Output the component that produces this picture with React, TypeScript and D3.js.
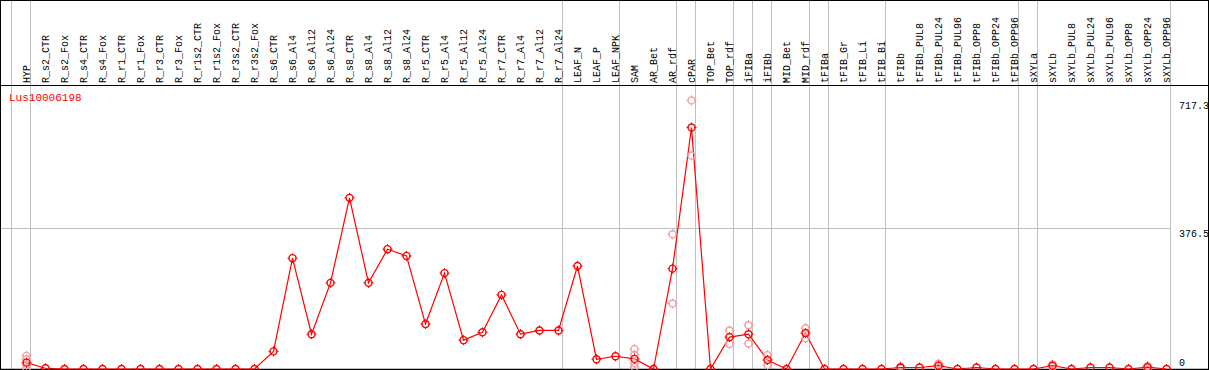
import React from "react";
import * as d3 from "d3";

const categories = [
  "HYP","R_s2_CTR","R_s2_Fox","R_s4_CTR","R_s4_Fox","R_r1_CTR","R_r1_Fox","R_r3_CTR","R_r3_Fox",
  "R_r1s2_CTR","R_r1s2_Fox","R_r3s2_CTR","R_r3s2_Fox","R_s6_CTR","R_s6_Al4","R_s6_Al12","R_s6_Al24",
  "R_s8_CTR","R_s8_Al4","R_s8_Al12","R_s8_Al24","R_r5_CTR","R_r5_Al4","R_r5_Al12","R_r5_Al24",
  "R_r7_CTR","R_r7_Al4","R_r7_Al12","R_r7_Al24","LEAF_N","LEAF_P","LEAF_NPK","SAM","AR_Bet","AR_rdf",
  "cPAR","TOP_Bet","TOP_rdf","iFIBa","iFIBb","MID_Bet","MID_rdf","tFIBa","tFIB_Gr","tFIB_Li","tFIB_Bi",
  "tFIBb","tFIBb_PUL8","tFIBb_PUL24","tFIBb_PUL96","tFIBb_OPP8","tFIBb_OPP24","tFIBb_OPP96","sXYLa",
  "sXYLb","sXYLb_PUL8","sXYLb_PUL24","sXYLb_PUL96","sXYLb_OPP8","sXYLb_OPP24","sXYLb_OPP96",
];

const meanValues = [
  17, 2, 0, 0, 0, 0, 0, 0, 0, 0, 0, 0, 0, 47, 296, 93, 230,
  457, 230, 320, 302, 120, 256, 77, 98,
  198, 93, 103, 103, 275, 26, 34, 27, 0, 268,
  645, 0, 85, 93, 24, 0, 96, 0, 0, 0, 0,
  4, 4, 9, 0, 4, 0, 0, 0,
  9, 0, 4, 4, 0, 5, 0,
];

// replicate measurements for categories that show visible spread
const replicateIndex = [0, 32, 34, 35, 37, 38, 39, 41, 46, 48, 54, 59];
const replicateValues = [
  [35, 26, 11, 2],
  [53, 38, 15, 5],
  [360, 175],
  [717.3, 570],
  [103, 67],
  [117, 68],
  [37, 11],
  [109, 82],
  [7, 2],
  [14, 4],
  [12, 6],
  [8, 2],
];

const groupEnds = [-1, 0, 28, 31, 34, 35, 37, 38, 39, 41, 42, 45, 52, 53, 60];
const axisTicks = [717.3, 376.5, 0];
const title = "Lus10006198";

const W = 1209;
const H = 370;
const FONT = "'Liberation Mono', 'DejaVu Sans Mono', monospace";

export default function App() {
  const x = d3.scaleLinear().domain([0, categories.length - 1]).range([26.5, 1166.5]);
  const y = d3.scaleLinear().domain([0, 717.3]).range([369, 100.4]);
  const line = d3
    .line<number>()
    .x((_, i) => x(i))
    .y((d) => y(d));

  const reps: { i: number; v: number }[] = [];
  replicateIndex.forEach((ci, k) => replicateValues[k].forEach((v) => reps.push({ i: ci, v })));

  const red = "#ff0000";
  const pink = "#f0a0a0";

  const marker = (cx: number, cy: number, color: string, key: string) => (
    <g key={key} stroke={color} fill="none">
      <circle cx={cx} cy={cy} r={3.5} strokeWidth={1.4} />
      <line x1={cx} x2={cx} y1={cy - 5} y2={cy - 3} strokeWidth={1} />
      <line x1={cx} x2={cx} y1={cy + 3} y2={cy + 5} strokeWidth={1} />
      <line x1={cx - 5} x2={cx - 3} y1={cy} y2={cy} strokeWidth={1} />
      <line x1={cx + 3} x2={cx + 5} y1={cy} y2={cy} strokeWidth={1} />
    </g>
  );

  return (
    <svg
      width={W}
      height={H}
      style={{ position: "absolute", left: 0, top: 0, background: "#fff" }}
      fontFamily={FONT}
    >
      <rect x={0} y={0} width={W} height={H} fill="#fff" />
      {/* vertical group lines */}
      {groupEnds.map((g) => {
        const gx = Math.floor(x(g) + 4) + 0.5;
        return <line key={"g" + g} x1={gx} x2={gx} y1={0} y2={369} stroke="#c0c0c0" strokeWidth={1} />;
      })}
      {/* horizontal gridline */}
      <line x1={0} x2={1170} y1={Math.round(y(376.5)) + 0.5} y2={Math.round(y(376.5)) + 0.5} stroke="#c0c0c0" />
      {/* frame */}
      <line x1={0} x2={W} y1={0.5} y2={0.5} stroke="#000" />
      <line x1={0.5} x2={0.5} y1={0} y2={370} stroke="#000" />
      <line x1={1208.5} x2={1208.5} y1={0} y2={370} stroke="#000" />
      <line x1={0} x2={W} y1={85.5} y2={85.5} stroke="#000" />
      <line x1={0} x2={W} y1={369.5} y2={369.5} stroke="#000" strokeWidth={1.5} />
      {/* category labels */}
      {categories.map((c, i) => (
        <text
          key={c}
          transform={`translate(${x(i) - 0.5},83) rotate(-90)`}
          textAnchor="start"
          dy="0.35em"
          fontSize={10}
          fill="#000"
        >
          {c}
        </text>
      ))}
      {/* title */}
      <text x={9} y={101} fontSize={11} fill={red}>
        {title}
      </text>
      {/* axis labels */}
      {axisTicks.map((t) => (
        <text
          key={t}
          x={1179}
          y={t === 0 ? y(t) - 3 : y(t) + 9}
          fontSize={10}
          fill="#000"
        >
          {t}
        </text>
      ))}
      {/* series line */}
      <path d={line(meanValues) || ""} fill="none" stroke={red} strokeWidth={1.2} />
      {/* replicates */}
      {reps.map((r, k) => marker(x(r.i), y(r.v), pink, "r" + k))}
      {/* means */}
      {meanValues.map((v, i) => marker(x(i), y(v), red, "m" + i))}
    </svg>
  );
}
